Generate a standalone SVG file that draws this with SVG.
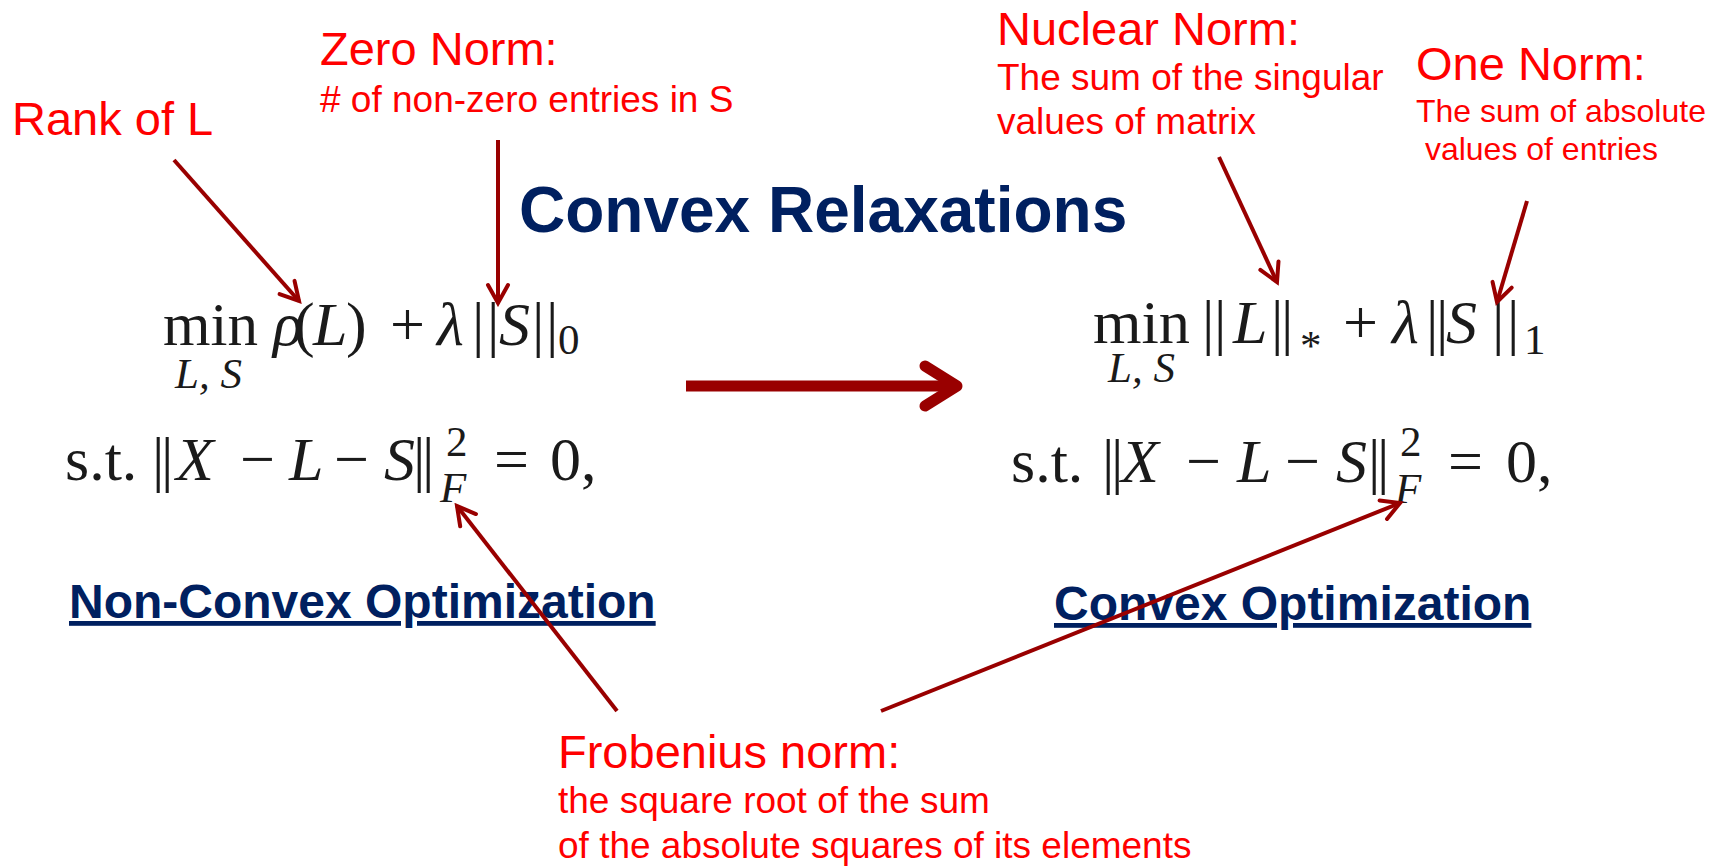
<svg xmlns="http://www.w3.org/2000/svg" width="1725" height="866" viewBox="0 0 1725 866">
<style>
.lbl{font-family:"Liberation Sans",Arial,sans-serif;fill:#FF0000}
.h{font-size:47px}
.d{font-size:37px}
.d2{font-size:32px}
.ttl{font-family:"Liberation Sans",Arial,sans-serif;font-weight:bold;fill:#002060}
.m{font-family:"Liberation Serif","Times New Roman",serif;font-size:62px;fill:#1a1a1a}
.sub{font-size:43px}
.i{font-style:italic}
.con{fill:none;stroke:#990000;stroke-width:4}
</style>
<defs>
<marker id="ah" markerUnits="userSpaceOnUse" markerWidth="30" markerHeight="30" viewBox="0 0 30 30" refX="26" refY="15" orient="auto">
<path d="M8,5 L26,15 L8,25" fill="none" stroke="#990000" stroke-width="4" stroke-linecap="round"/>
</marker>
</defs>
<rect width="1725" height="866" fill="#FFFFFF"/>

<g id="title">
<text class="ttl" x="519" y="232" font-size="64">Convex Relaxations</text>
</g>

<g id="label-rank">
<text class="lbl h" x="12" y="135">Rank of L</text>
</g>
<g id="label-zero-norm">
<text class="lbl h" x="320" y="65">Zero Norm:</text>
<text class="lbl d" x="320" y="112">&#35; of non-zero entries in S</text>
</g>
<g id="label-nuclear-norm">
<text class="lbl h" x="997" y="45">Nuclear Norm:</text>
<text class="lbl d" x="997" y="90">The sum of the singular</text>
<text class="lbl d" x="997" y="134">values of matrix</text>
</g>
<g id="label-one-norm">
<text class="lbl h" x="1416" y="80">One Norm:</text>
<text class="lbl d2" x="1416" y="122">The sum of absolute</text>
<text class="lbl d2" x="1416" y="160" xml:space="preserve"> values of entries</text>
</g>
<g id="label-frobenius">
<text class="lbl h" x="558" y="768">Frobenius norm:</text>
<text class="lbl d" x="558" y="813">the square root of the sum</text>
<text class="lbl d" x="558" y="858">of the absolute squares of its elements</text>
</g>

<g id="formula-nonconvex">
<text class="m" x="163" y="345" textLength="95" lengthAdjust="spacingAndGlyphs">min</text>
<text class="m sub i" x="175" y="388">L, S</text>
<text class="m" y="345"><tspan class="i" x="273">ρ</tspan><tspan x="294">(</tspan><tspan class="i" x="313">L</tspan><tspan x="346">)</tspan><tspan x="390">+</tspan><tspan class="i" x="437">λ</tspan><tspan x="472">|</tspan><tspan x="487">|</tspan><tspan class="i" x="499">S</tspan><tspan x="532">|</tspan><tspan x="546">|</tspan></text>
<text class="m sub" x="558" y="354">0</text>
<text class="m" y="480"><tspan x="65">s.t.</tspan><tspan x="152">|</tspan><tspan x="161">|</tspan><tspan class="i" x="176">X</tspan><tspan x="240">−</tspan><tspan class="i" x="289">L</tspan><tspan x="334">−</tspan><tspan class="i" x="384">S</tspan><tspan x="413">|</tspan><tspan x="422">|</tspan><tspan x="494">=</tspan><tspan x="550">0,</tspan></text>
<text class="m sub" x="446" y="456">2</text>
<text class="m sub i" x="440" y="502">F</text>
</g>

<g id="heading-nonconvex">
<text class="ttl" x="69" y="618" font-size="48" text-decoration="underline">Non-Convex Optimization</text>
</g>

<g id="formula-convex">
<text class="m" x="1093" y="343" textLength="97" lengthAdjust="spacingAndGlyphs">min</text>
<text class="m sub i" x="1108" y="382">L, S</text>
<text class="m" y="343"><tspan x="1202">|</tspan><tspan x="1214">|</tspan><tspan class="i" x="1233">L</tspan><tspan x="1271">|</tspan><tspan x="1281">|</tspan><tspan x="1343">+</tspan><tspan class="i" x="1392">λ</tspan><tspan x="1426">|</tspan><tspan x="1436">|</tspan><tspan class="i" x="1446">S</tspan><tspan x="1492">|</tspan><tspan x="1507">|</tspan></text>
<text class="m sub" x="1300" y="360">*</text>
<text class="m sub" x="1524" y="354">1</text>
<text class="m" y="482"><tspan x="1011">s.t.</tspan><tspan x="1102">|</tspan><tspan x="1111">|</tspan><tspan class="i" x="1121">X</tspan><tspan x="1186">−</tspan><tspan class="i" x="1237">L</tspan><tspan x="1285">−</tspan><tspan class="i" x="1336">S</tspan><tspan x="1368">|</tspan><tspan x="1377">|</tspan><tspan x="1448">=</tspan><tspan x="1506">0,</tspan></text>
<text class="m sub" x="1400" y="456">2</text>
<text class="m sub i" x="1395" y="503">F</text>
</g>

<g id="heading-convex">
<text class="ttl" x="1054" y="620" font-size="48" text-decoration="underline">Convex Optimization</text>
</g>

<g id="connectors">
<line class="con" x1="174" y1="160" x2="299" y2="301" marker-end="url(#ah)"/>
<line class="con" x1="498" y1="140" x2="498" y2="303" marker-end="url(#ah)"/>
<line class="con" x1="1219" y1="157" x2="1277" y2="282" marker-end="url(#ah)"/>
<line class="con" x1="1527" y1="201" x2="1497" y2="302" marker-end="url(#ah)"/>
<line class="con" x1="617" y1="711" x2="457" y2="506" marker-end="url(#ah)"/>
<line class="con" x1="881" y1="711" x2="1400" y2="503" marker-end="url(#ah)"/>
<g id="relax-arrow">
<line x1="686" y1="386" x2="952" y2="386" stroke="#990000" stroke-width="11"/>
<path d="M925,366 L957,386 L925,406" fill="none" stroke="#990000" stroke-width="11" stroke-linecap="round" stroke-linejoin="round"/>
</g>
</g>
</svg>
